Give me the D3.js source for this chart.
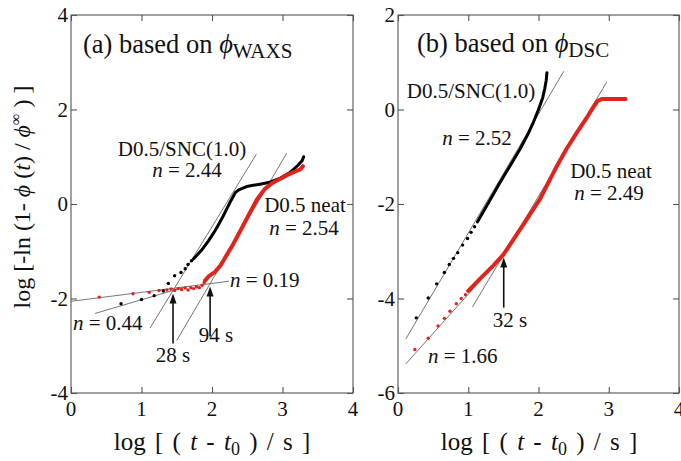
<!DOCTYPE html>
<html>
<head>
<meta charset="utf-8">
<script src="https://cdn.jsdelivr.net/npm/d3@7"></script>
<style>
  html, body { margin: 0; padding: 0; background: #fff; }
  svg { display: block; }
</style>
</head>
<body>
<svg id="chart" width="681" height="461" font-family="'Liberation Serif', 'DejaVu Serif', serif"></svg>
<script>
// ---------- axis ticks ----------
const xTicks = [0, 1, 2, 3, 4];
const yTicksA = [-4, -2, 0, 2, 4];
const yTicksB = [-6, -4, -2, 0, 2];

// ---------- (a) based on phi_WAXS ----------
// D0.5/SNC(1.0): isolated early points, then the dense run
const waxsSncDots = [
  [0.71, -2.11], [1.00, -2.02], [1.18, -1.94], [1.31, -1.84], [1.38, -1.68],
  [1.47, -1.52], [1.56, -1.45], [1.62, -1.37], [1.66, -1.28], [1.71, -1.20]
];
const waxsSncTrace = [
  [1.74, -1.16], [1.85, -0.98], [1.95, -0.78], [2.05, -0.55], [2.15, -0.28],
  [2.25, 0.02], [2.33, 0.24], [2.38, 0.30], [2.49, 0.37], [2.68, 0.42],
  [2.82, 0.46], [2.96, 0.54], [3.11, 0.67], [3.22, 0.82], [3.28, 0.92],
  [3.30, 1.00]
];
// D0.5 neat
const waxsNeatDots = [
  [0.40, -1.97], [0.88, -1.90], [1.11, -1.87], [1.25, -1.83], [1.36, -1.82],
  [1.42, -1.80], [1.47, -1.83], [1.52, -1.79], [1.57, -1.81], [1.62, -1.78],
  [1.66, -1.82], [1.70, -1.77], [1.74, -1.79], [1.78, -1.75], [1.82, -1.77],
  [1.86, -1.72], [1.89, -1.66]
];
const waxsNeatTrace = [
  [1.90, -1.62], [1.96, -1.52], [2.04, -1.44], [2.12, -1.30], [2.20, -1.10],
  [2.30, -0.85], [2.44, -0.46], [2.56, -0.12], [2.64, 0.10], [2.75, 0.32],
  [2.85, 0.44], [2.95, 0.52], [3.05, 0.60], [3.15, 0.67], [3.25, 0.73],
  [3.29, 0.80]
];
// Avrami fits: exponent n, crossing point (log t, y) and drawn x span
const waxsOnsetSeconds = [28, 94];
const waxsOnsetY = [-1.83, -1.685];
const waxsFits = [
  { n: 0.44, onset: 0, from: 0.34, to: 1.62 },
  { n: 2.44, onset: 0, from: 1.12, to: 2.63 },
  { n: 0.19, onset: 1, from: 0.00, to: 2.24 },
  { n: 2.54, onset: 1, from: 1.50, to: 3.06 }
];

// ---------- (b) based on phi_DSC ----------
const dscSncDots = [
  [0.26, -4.41], [0.43, -3.99], [0.55, -3.69], [0.66, -3.45], [0.73, -3.28],
  [0.79, -3.15], [0.85, -3.03], [0.92, -2.87], [0.99, -2.73], [1.04, -2.60],
  [1.09, -2.48]
];
const dscSncTrace = [
  [1.13, -2.38], [1.30, -1.94], [1.45, -1.55], [1.60, -1.18], [1.74, -0.83],
  [1.85, -0.52], [1.93, -0.26], [2.00, 0.00], [2.06, 0.25], [2.09, 0.45],
  [2.11, 0.62], [2.12, 0.78]
];
const dscNeatDots = [
  [0.24, -5.08], [0.43, -4.84], [0.57, -4.58], [0.66, -4.42], [0.74, -4.27],
  [0.83, -4.11], [0.90, -4.00], [0.96, -3.92]
];
const dscNeatTrace = [
  [1.00, -3.84], [1.17, -3.58], [1.36, -3.30], [1.50, -3.07], [1.60, -2.85],
  [1.70, -2.62], [1.80, -2.40], [2.02, -1.90], [2.26, -1.20], [2.40, -0.83],
  [2.55, -0.48], [2.68, -0.19], [2.78, 0.05], [2.84, 0.18], [2.90, 0.22],
  [3.05, 0.22], [3.24, 0.22]
];
const dscOnsetSeconds = [32];
const dscOnsetY = [-3.07];
const dscFits = [
  { n: 1.66, onset: 0, from: 0.11, to: 1.55 },
  { n: 2.49, onset: 0, from: 1.06, to: 2.97 },
  { n: 2.52, anchor: [0.114, -4.85], from: 0.11, to: 2.36 }
];

// ---------- drawing ----------
const svg = d3.select("#chart");
const SERIF = "'Liberation Serif', 'DejaVu Serif', serif";
const RED = "#e3231b";
const FRAME = "#555";

function panel(opts) {
  const x = d3.scaleLinear().domain([0, 4]).range(opts.xRange);
  const y = d3.scaleLinear().domain(opts.yDomain).range([393, 15]);
  const g = svg.append("g");
  const [x0, x1] = opts.xRange;

  // frame
  g.append("rect").attr("x", x0).attr("y", 15).attr("width", x1 - x0).attr("height", 378)
    .attr("fill", "none").attr("stroke", FRAME).attr("stroke-width", 1.1);

  // inward ticks on all four sides
  const tl = 6;
  const axB = d3.axisBottom(x).tickValues(opts.xTicks).tickSizeInner(-tl).tickSizeOuter(0).tickFormat("");
  const axT = d3.axisTop(x).tickValues(opts.xTicks).tickSizeInner(-tl).tickSizeOuter(0).tickFormat("");
  const axL = d3.axisLeft(y).tickValues(opts.yTicks).tickSizeInner(-tl).tickSizeOuter(0).tickFormat("");
  const axR = d3.axisRight(y).tickValues(opts.yTicks).tickSizeInner(-tl).tickSizeOuter(0).tickFormat("");
  [[axB, `translate(0,393)`], [axT, `translate(0,15)`], [axL, `translate(${x0},0)`], [axR, `translate(${x1},0)`]]
    .forEach(([ax, tr]) => {
      const a = g.append("g").attr("transform", tr).call(ax);
      a.select(".domain").remove();
      a.selectAll("line").attr("stroke", FRAME).attr("stroke-width", 1.1);
    });

  // tick labels
  g.selectAll(".xt").data(opts.xTicks).join("text")
    .attr("x", d => x(d)).attr("y", 416).attr("text-anchor", "middle")
    .attr("font-family", SERIF).attr("font-size", 21).attr("fill", "#111").text(d => d);
  g.selectAll(".yt").data(opts.yTicks).join("text")
    .attr("x", x0 - 3).attr("y", d => y(d) + 7).attr("text-anchor", "end")
    .attr("font-family", SERIF).attr("font-size", 21).attr("fill", "#111").text(d => d);

  // fit lines
  const fitY = f => {
    const [ax, ay] = f.anchor ? f.anchor : [Math.log10(opts.onsetSeconds[f.onset]), opts.onsetY[f.onset]];
    return xv => ay + f.n * (xv - ax);
  };
  g.selectAll(".fit").data(opts.fits).join("line")
    .attr("x1", f => x(f.from)).attr("y1", f => y(fitY(f)(f.from)))
    .attr("x2", f => x(f.to)).attr("y2", f => y(fitY(f)(f.to)))
    .attr("stroke", "#666").attr("stroke-width", 0.9);

  // data: dense runs as thick paths, sparse points as dots
  const line = d3.line().x(d => x(d[0])).y(d => y(d[1]));
  opts.series.forEach(s => {
    g.append("path").attr("d", line(s.trace)).attr("fill", "none")
      .attr("stroke", s.color).attr("stroke-width", s.width)
      .attr("stroke-linejoin", "round").attr("stroke-linecap", "round");
    g.selectAll(null).data(s.dots).join("circle")
      .attr("cx", d => x(d[0])).attr("cy", d => y(d[1])).attr("r", 1.7)
      .attr("fill", s.color);
  });

  // onset arrows
  opts.onsetSeconds.forEach((t, i) => {
    const px = x(Math.log10(t));
    const tip = y(opts.onsetY[i]) + 3;
    const tail = tip + 50;
    g.append("line").attr("x1", px).attr("x2", px).attr("y1", tip + 8).attr("y2", tail)
      .attr("stroke", "#111").attr("stroke-width", 1.6);
    g.append("path").attr("d", `M${px},${tip} L${px - 3.5},${tip + 10} L${px + 3.5},${tip + 10} Z`)
      .attr("fill", "#111");
  });
  return { g, x, y };
}

function rich(g, xPos, yPos, parts, size, anchor) {
  const t = g.append("text").attr("x", xPos).attr("y", yPos)
    .attr("font-family", SERIF).attr("font-size", size).attr("fill", "#111")
    .attr("text-anchor", anchor || "start");
  parts.forEach(p => {
    const s = t.append("tspan").text(p.t);
    if (p.i) s.attr("font-style", "italic");
    if (p.size) s.attr("font-size", p.size);
    if (p.dy) s.attr("dy", p.dy);
  });
  return t;
}

// panel (a)
const A = panel({
  xRange: [71, 353], yDomain: [-4, 4], xTicks, yTicks: yTicksA,
  fits: waxsFits, onsetSeconds: waxsOnsetSeconds, onsetY: waxsOnsetY,
  series: [
    { dots: waxsSncDots, trace: waxsSncTrace, color: "#000", width: 3 },
    { dots: waxsNeatDots, trace: waxsNeatTrace, color: RED, width: 4 }
  ]
});
rich(A.g, 83, 53, [{ t: "(a) based on " }, { t: "ϕ", i: true }, { t: "WAXS", size: 21, dy: 5 }], 26.5);
rich(A.g, 182, 156, [{ t: "D0.5/SNC(1.0)" }], 21, "middle");
rich(A.g, 187, 177, [{ t: "n", i: true }, { t: " = 2.44" }], 21, "middle");
rich(A.g, 305, 212, [{ t: "D0.5 neat" }], 21, "middle");
rich(A.g, 304, 235, [{ t: "n", i: true }, { t: " = 2.54" }], 21, "middle");
rich(A.g, 230, 287, [{ t: "n", i: true }, { t: " = 0.19" }], 21);
rich(A.g, 73, 330, [{ t: "n", i: true }, { t: " = 0.44" }], 21);
rich(A.g, 173, 362, [{ t: "28 s" }], 21, "middle");
rich(A.g, 216, 342, [{ t: "94 s" }], 21, "middle");

// panel (b)
const B = panel({
  xRange: [398, 679], yDomain: [-6, 2], xTicks, yTicks: yTicksB,
  fits: dscFits, onsetSeconds: dscOnsetSeconds, onsetY: dscOnsetY,
  series: [
    { dots: dscSncDots, trace: dscSncTrace, color: "#000", width: 3 },
    { dots: dscNeatDots, trace: dscNeatTrace, color: RED, width: 4 }
  ]
});
rich(B.g, 417, 52, [{ t: "(b) based on " }, { t: "ϕ", i: true }, { t: "DSC", size: 21, dy: 5 }], 26.5);
rich(B.g, 471, 98, [{ t: "D0.5/SNC(1.0)" }], 21, "middle");
rich(B.g, 477, 145, [{ t: "n", i: true }, { t: " = 2.52" }], 21, "middle");
rich(B.g, 611, 178, [{ t: "D0.5 neat" }], 21, "middle");
rich(B.g, 609, 200, [{ t: "n", i: true }, { t: " = 2.49" }], 21, "middle");
rich(B.g, 510, 327, [{ t: "32 s" }], 21, "middle");
rich(B.g, 428, 363, [{ t: "n", i: true }, { t: " = 1.66" }], 21);

// axis titles
const xLabel = [{ t: "log [ ( " }, { t: "t", i: true }, { t: " - " }, { t: "t", i: true },
  { t: "0", size: 18, dy: 5 }, { t: " ) / s ]", dy: -5 }];
rich(svg, 212, 450, xLabel, 25, "middle").attr("word-spacing", 3);
rich(svg, 539, 450, xLabel, 25, "middle").attr("word-spacing", 3);

const yl = rich(svg, 0, 0, [{ t: "log [-ln (1- " }, { t: "ϕ", i: true }, { t: " (" }, { t: "t", i: true },
  { t: ") / " }, { t: "ϕ", i: true }, { t: "∞", size: 16, dy: -9 }, { t: " ) ]", dy: 9 }], 24, "middle");
yl.attr("transform", "translate(30,197) rotate(-90)");
</script>
</body>
</html>
